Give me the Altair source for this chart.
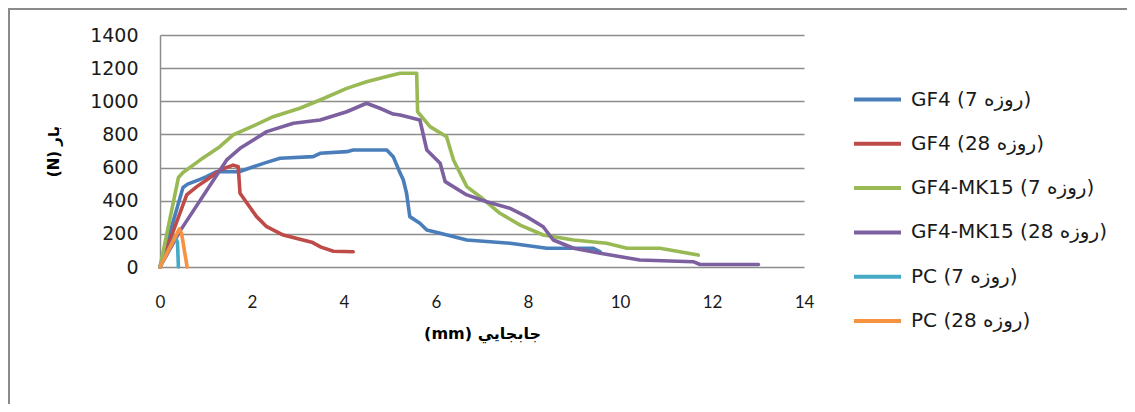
import altair as alt
import pandas as pd

series_names = [
    "GF4 (7 روزه)",
    "GF4 (28 روزه)",
    "GF4-MK15 (7 روزه)",
    "GF4-MK15 (28 روزه)",
    "PC (7 روزه)",
    "PC (28 روزه)",
]
series_colors = ["#4A7EBB", "#BE4B48", "#98B954", "#7D60A0", "#46AAC5", "#F69240"]

gf4_7_x = [0, 0.50, 0.60, 0.87, 1.01, 1.23, 1.72, 2.03, 2.30, 2.61, 3.33, 3.48, 4.06, 4.20, 4.93, 5.07, 5.20, 5.29, 5.36, 5.43, 5.65, 5.80, 6.09, 6.67, 7.61, 8.41, 9.42, 9.57]
gf4_7_y = [0, 480, 500, 529, 545, 575, 575, 605, 630, 656, 666, 686, 696, 706, 706, 666, 580, 525, 445, 304, 264, 223, 203, 163, 143, 113, 113, 92]

gf4_28_x = [0, 0.58, 0.80, 1.01, 1.16, 1.30, 1.59, 1.70, 1.74, 1.92, 2.10, 2.32, 2.68, 3.00, 3.30, 3.50, 3.77, 4.20]
gf4_28_y = [0, 435, 485, 525, 555, 585, 615, 605, 445, 374, 304, 243, 193, 170, 150, 120, 95, 92]

mk15_7_x = [0, 0.40, 0.50, 0.87, 1.30, 1.59, 2.03, 2.46, 3.04, 3.48, 4.06, 4.49, 4.93, 5.22, 5.58, 5.60, 5.87, 6.23, 6.38, 6.67, 6.96, 7.39, 7.83, 8.33, 8.99, 9.71, 10.15, 10.87, 11.30, 11.70]
mk15_7_y = [0, 540, 570, 645, 726, 797, 851, 907, 958, 1008, 1078, 1118, 1149, 1169, 1169, 937, 847, 786, 646, 485, 424, 324, 253, 193, 163, 143, 113, 113, 92, 72]

mk15_28_x = [0, 0.43, 1.45, 1.74, 2.32, 2.90, 3.48, 4.06, 4.49, 4.78, 5.07, 5.22, 5.65, 5.80, 6.09, 6.20, 6.67, 7.10, 7.61, 7.97, 8.33, 8.55, 8.99, 9.57, 10.43, 11.59, 11.74, 13.01]
mk15_28_y = [0, 215, 646, 716, 817, 867, 887, 937, 988, 958, 923, 917, 887, 706, 626, 515, 435, 394, 354, 304, 243, 163, 113, 83, 42, 32, 15, 15]

pc_7_x = [0, 0.33, 0.38, 0.40]
pc_7_y = [0, 185, 150, 0]

pc_28_x = [0, 0.42, 0.47, 0.59]
pc_28_y = [0, 230, 200, 0]

all_x = [gf4_7_x, gf4_28_x, mk15_7_x, mk15_28_x, pc_7_x, pc_28_x]
all_y = [gf4_7_y, gf4_28_y, mk15_7_y, mk15_28_y, pc_7_y, pc_28_y]

x_ticks = [0, 2, 4, 6, 8, 10, 12, 14]
y_ticks = [0, 200, 400, 600, 800, 1000, 1200, 1400]

GRID = "#8C8C8C"
TXT = "#1a1a1a"

color_scale = alt.Scale(domain=series_names, range=series_colors)

x_axis = alt.Axis(
    values=x_ticks, grid=False, ticks=False, domain=False, labelFlush=False,
    labelFontSize=17, labelFont="Lato", labelColor=TXT, labelPadding=27,
    title="(mm) جابجايي", titleFontSize=16, titleFont="DejaVu Sans", titleFontWeight="bold",
    titleColor="#000000", titlePadding=15,
)
y_axis = alt.Axis(
    values=y_ticks, format="d", grid=True, gridColor=GRID, gridWidth=1.5, ticks=False,
    domain=True, domainColor=GRID, domainWidth=1.5, labelFlush=False,
    labelFontSize=19, labelFont="DejaVu Sans", labelColor=TXT, labelPadding=22,
    title="(N) بار", titleFontSize=15, titleFont="DejaVu Sans", titleFontWeight="bold",
    titleColor="#000000", titlePadding=28,
)
legend = alt.Legend(
    title=None, orient="none", legendX=692, legendY=39,
    symbolType="stroke", symbolSize=2209, symbolStrokeWidth=4,
    labelFont="DejaVu Sans", labelFontSize=20, labelColor=TXT,
    labelOffset=8, rowPadding=8.3, labelLimit=400,
)

layers = []
for i, name in enumerate(series_names):
    df = pd.DataFrame({"x": all_x[i], "y": all_y[i], "s": name, "o": list(range(len(all_x[i])))})
    layer = alt.Chart(df).mark_line(strokeWidth=3.6, strokeJoin="round", strokeCap="round").encode(
        x=alt.X("x:Q", scale=alt.Scale(domain=[0, 14], nice=False), axis=x_axis),
        y=alt.Y("y:Q", scale=alt.Scale(domain=[0, 1400], nice=False), axis=y_axis),
        order="o:Q",
        color=alt.Color("s:N", scale=color_scale, legend=legend),
    )
    layers.append(layer)

frame = alt.Chart(pd.DataFrame({"a": [0]})).mark_rect(
    fillOpacity=0, stroke="#8A8A8A", strokeWidth=2
).encode(
    x=alt.value(-151), x2=alt.value(1100), y=alt.value(-26), y2=alt.value(500)
)

chart = alt.layer(*layers, frame).properties(
    width=644,
    height=232,
    padding={"left": 152, "top": 27, "right": 323, "bottom": 137},
    autosize=alt.AutoSizeParams(type="none"),
).configure(background="white").configure_view(stroke=None)

chart.save("out.html", embed_options={"renderer": "svg", "actions": False})
